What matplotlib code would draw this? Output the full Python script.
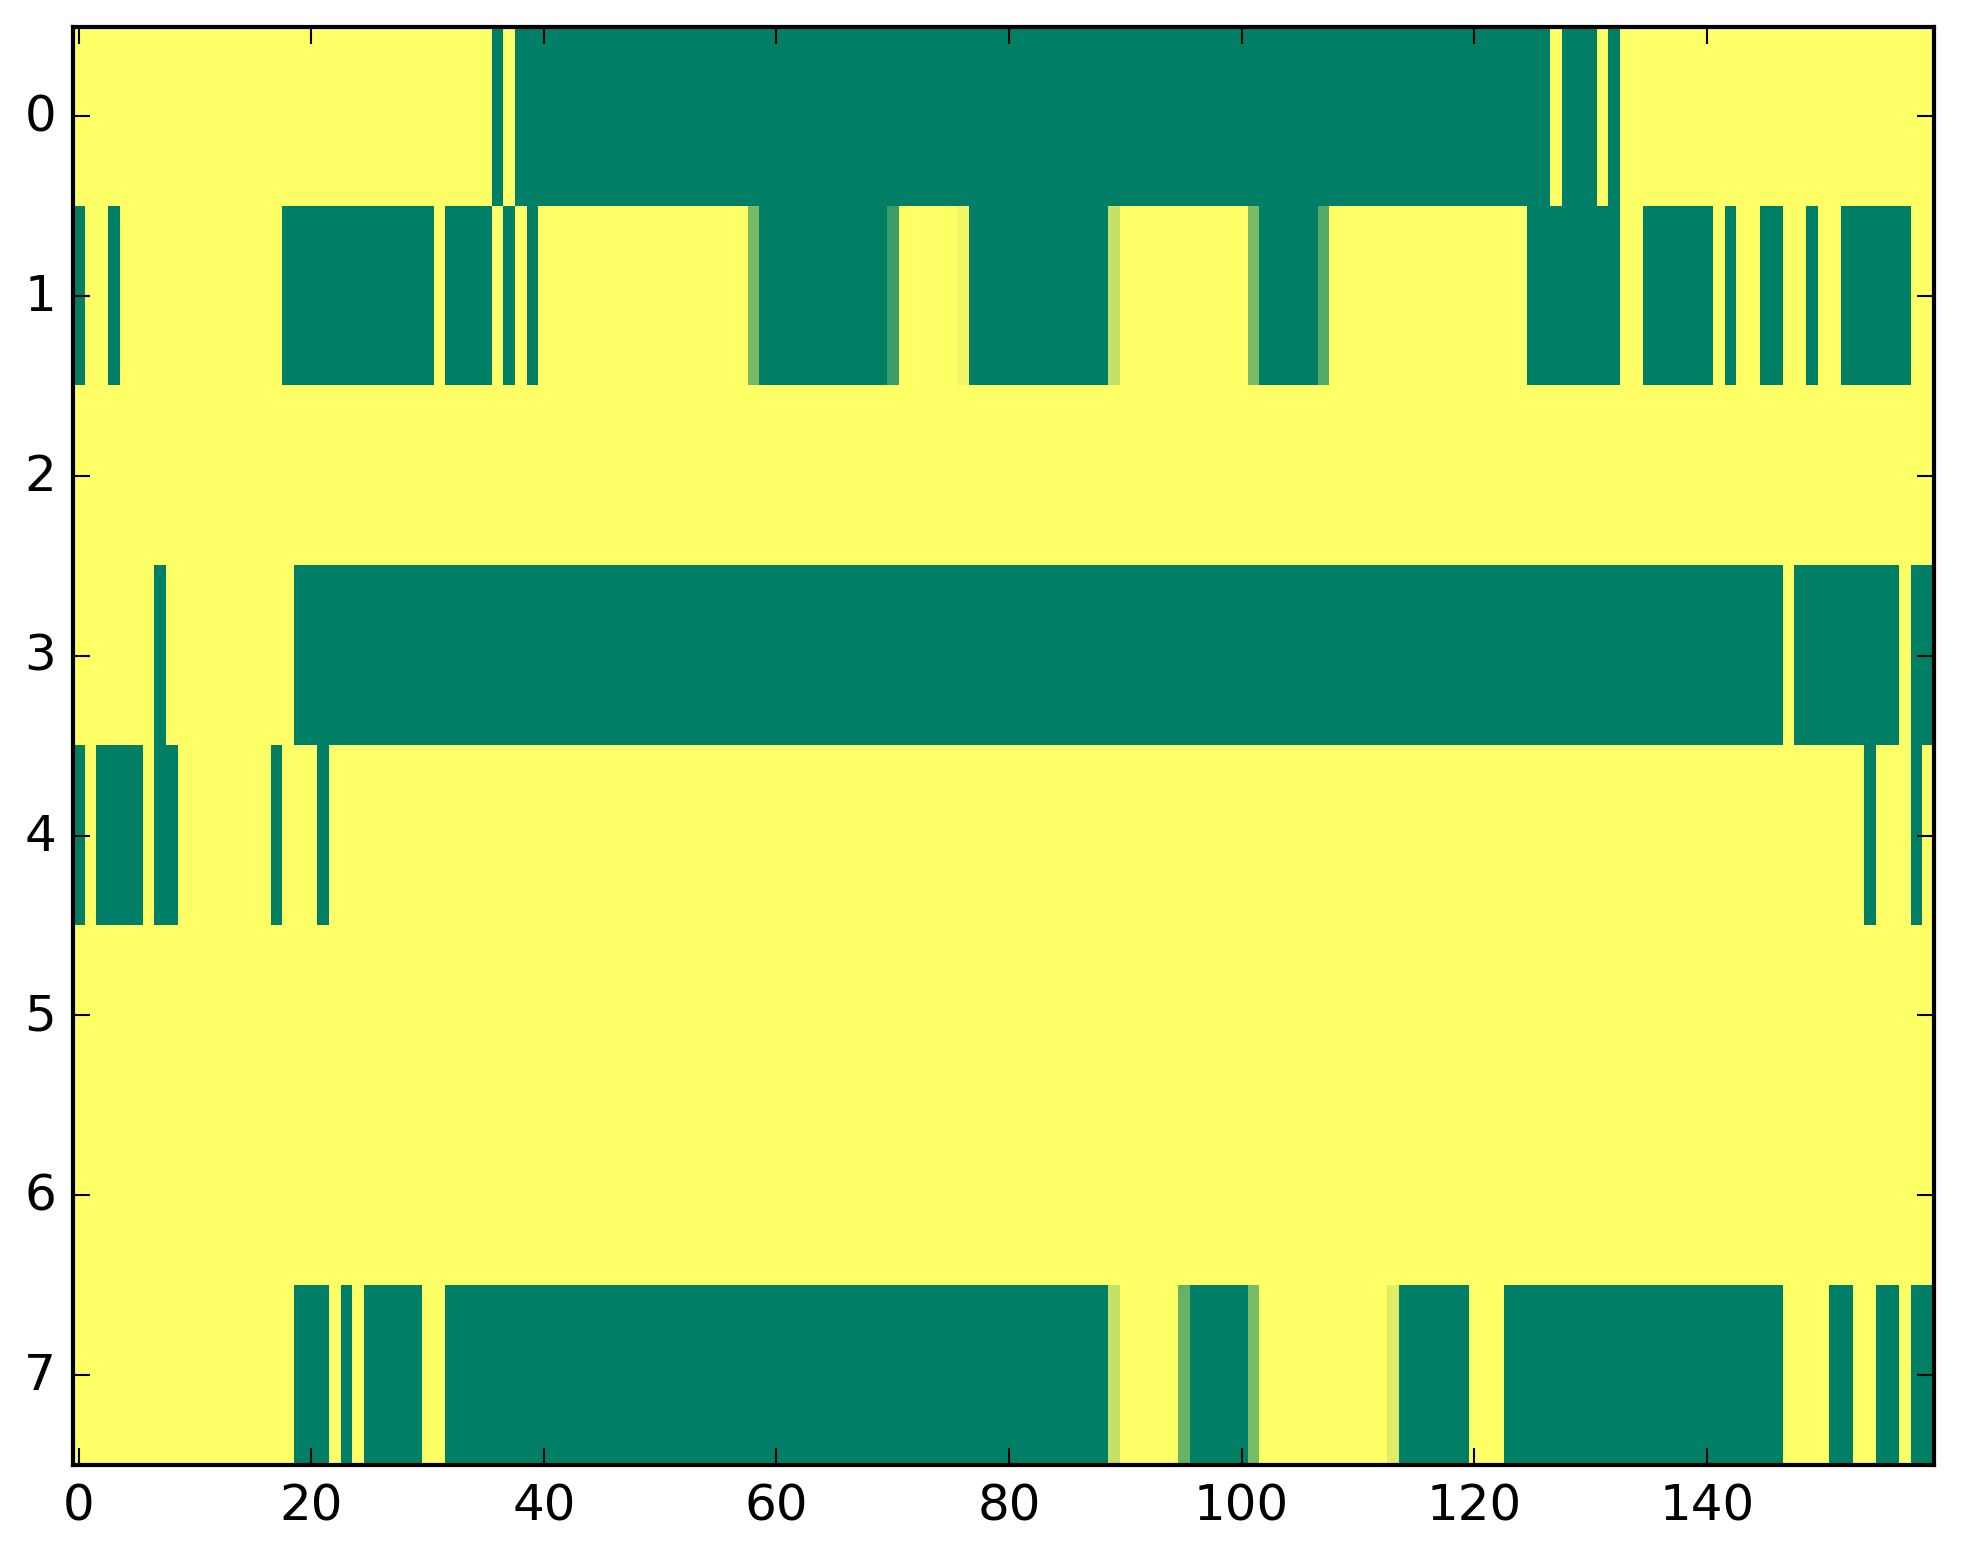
import numpy as np
import matplotlib
matplotlib.use('Agg')
import matplotlib.pyplot as plt

plt.style.use('classic')

n_rows, n_cols = 8, 160

# runs of columns (inclusive) that are 0 (green) in each row; everything else is 1 (yellow)
row0_green = [(36, 36), (38, 126), (128, 130), (132, 132)]
row1_green = [(0, 0), (3, 3), (18, 30), (32, 35), (37, 37), (39, 39), (59, 69),
              (77, 88), (102, 106), (125, 132), (135, 140), (142, 142),
              (145, 146), (149, 149), (152, 157)]
row2_green = []
row3_green = [(7, 7), (19, 146), (148, 156), (158, 159)]
row4_green = [(0, 0), (2, 5), (7, 8), (17, 17), (21, 21), (154, 154), (158, 158)]
row5_green = []
row6_green = []
row7_green = [(19, 21), (23, 23), (25, 29), (32, 88), (96, 100), (114, 119),
              (123, 146), (151, 152), (155, 156), (158, 159)]

# cells with in-between values
row1_partial = {58: 0.47, 70: 0.23, 76: 0.93, 89: 0.77, 101: 0.47, 107: 0.33}
row7_partial = {89: 0.77, 95: 0.40, 101: 0.47, 113: 0.87}

green_runs = [row0_green, row1_green, row2_green, row3_green,
              row4_green, row5_green, row6_green, row7_green]
partials = {1: row1_partial, 7: row7_partial}

data = np.ones((n_rows, n_cols))
for r, runs in enumerate(green_runs):
    for a, b in runs:
        data[r, a:b + 1] = 0.0
for r, vals in partials.items():
    for c, v in vals.items():
        data[r, c] = v

W, H, DPI = 1963, 1564, 300
fig = plt.figure(figsize=(W / DPI, H / DPI), dpi=DPI, facecolor='white')
ax = fig.add_axes([72.8 / W, (H - 1466) / H, 1860.8 / W, 1438.5 / H])

ax.imshow(data, cmap='summer', vmin=0, vmax=1, aspect='auto',
          interpolation='nearest')

ax.set_xticks(np.arange(0, 141, 20))
ax.set_yticks(np.arange(0, 8))
ax.tick_params(direction='in', top=True, right=True, length=4, width=0.5,
               labelsize=12, pad=4)
for s in ax.spines.values():
    s.set_linewidth(1.0)

fig.savefig('out.png', dpi=DPI, facecolor='white')
